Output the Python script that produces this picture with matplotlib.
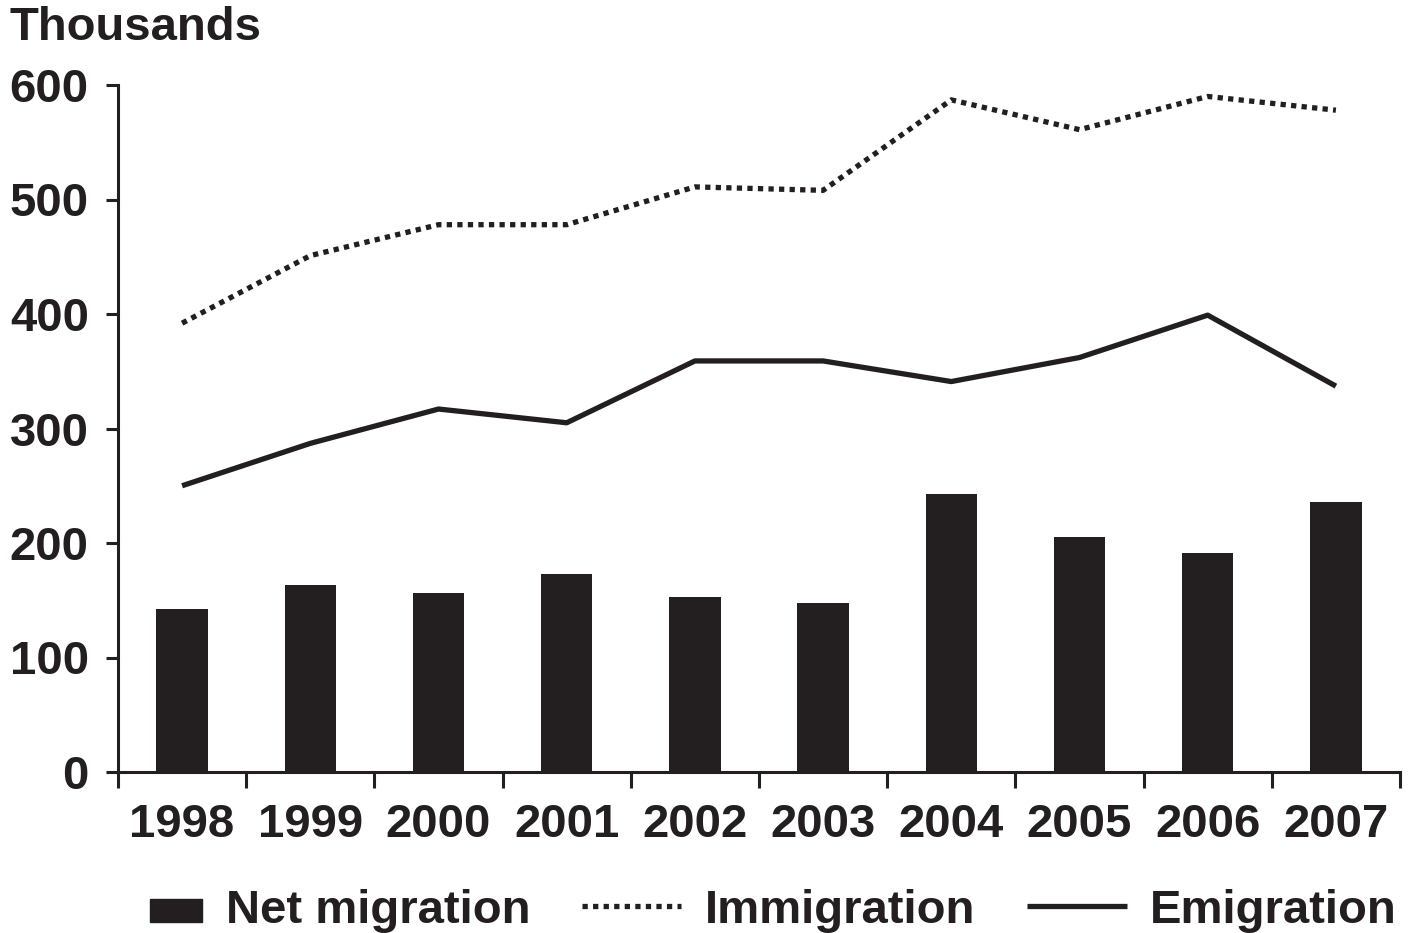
import matplotlib.pyplot as plt
import matplotlib.patches as mpatches
from matplotlib.legend_handler import HandlerPatch

plt.rcParams['font.family'] = 'Liberation Sans'
plt.rcParams['font.weight'] = 'bold'

years = ['1998', '1999', '2000', '2001', '2002', '2003', '2004', '2005', '2006', '2007']
net_migration = [142, 163, 156, 173, 153, 148, 243, 205, 191, 236]
immigration = [392, 451, 478, 478, 511, 508, 587, 561, 590, 578]
emigration = [250, 287, 317, 305, 359, 359, 341, 362, 399, 337]

ink = '#231f20'

fig = plt.figure(figsize=(14.12, 9.33), dpi=100)
ax = fig.add_axes([118 / 1412, 1 - 772 / 933, 1282 / 1412, 687 / 933])

x = range(len(years))
ax.bar(x, net_migration, width=0.4, color=ink, zorder=2)
imm, = ax.plot(x, immigration, color=ink, lw=3.8, linestyle=(0, (1, 1)),
               dash_capstyle='butt', zorder=3)
emi, = ax.plot(x, emigration, color=ink, lw=3.8, solid_capstyle='butt', zorder=3)

ax.set_xlim(-0.5, len(years) - 0.5)
ax.set_ylim(0, 600)
ax.set_yticks(range(0, 601, 100))
ax.set_xticks(list(x))
ax.set_xticklabels(years)
ax.set_xticks([i - 0.5 for i in range(len(years) + 1)], minor=True)

for s in ['top', 'right']:
    ax.spines[s].set_visible(False)
for s in ['left', 'bottom']:
    ax.spines[s].set_linewidth(2.2)
    ax.spines[s].set_color(ink)

ax.tick_params(axis='y', length=9, width=2.2, color=ink, labelsize=34,
               labelcolor=ink, pad=12)
ax.tick_params(axis='x', which='major', length=0, labelsize=34,
               labelcolor=ink, pad=22)
ax.tick_params(axis='x', which='minor', length=11.5, width=2.2, color=ink)

fig.text(10 / 1412, 1 - 6 / 933, 'Thousands', fontsize=34, color=ink,
         ha='left', va='top')


def small_rect(legend, orig_handle, xdescent, ydescent, width, height, fontsize):
    return mpatches.Rectangle((-xdescent + width * 0.47, -ydescent + height * 0.02),
                              width * 0.53, height * 0.72)


bar_proxy = mpatches.Rectangle((0, 0), 1, 1, color=ink)
leg = fig.legend([bar_proxy, imm, emi], ['Net migration', 'Immigration', 'Emigration'],
                 ncol=3, loc='center', bbox_to_anchor=(750 / 1412, 1 - 911 / 933),
                 frameon=False, fontsize=34, handlelength=2.1,
                 handletextpad=0.5, columnspacing=1.1,
                 handler_map={mpatches.Rectangle: HandlerPatch(patch_func=small_rect)})
for t in leg.get_texts():
    t.set_color(ink)

fig.savefig('out.png', dpi=100)
